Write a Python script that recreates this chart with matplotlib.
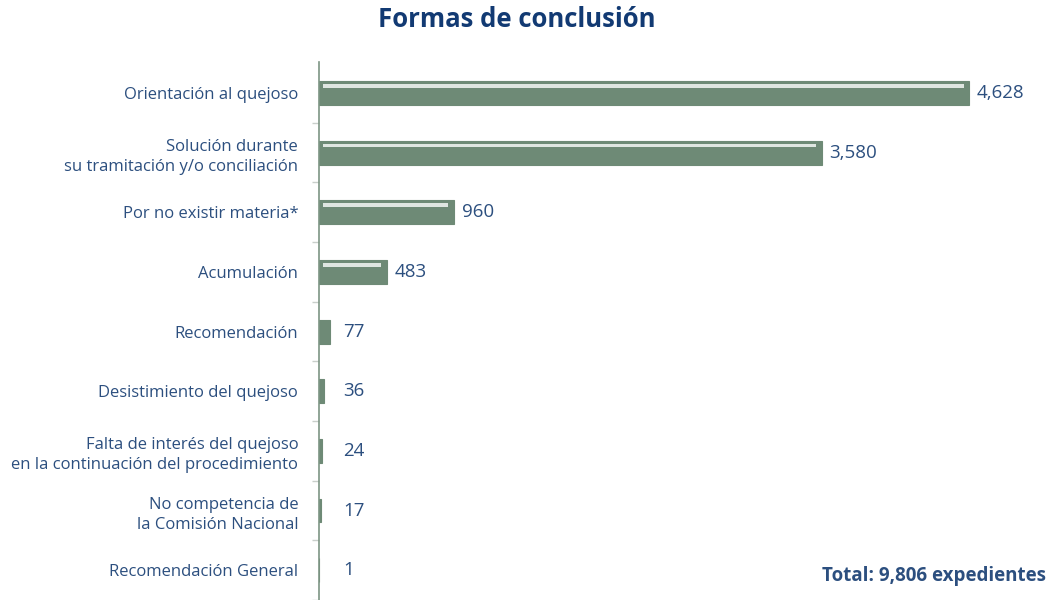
import matplotlib.pyplot as plt
import numpy as np

plt.rcParams['font.family'] = ['Open Sans', 'DejaVu Sans']

categorias = ['Orientación al quejoso',
              'Solución durante\nsu tramitación y/o conciliación',
              'Por no existir materia*',
              'Acumulación',
              'Recomendación',
              'Desistimiento del quejoso',
              'Falta de interés del quejoso\nen la continuación del procedimiento',
              'No competencia de\nla Comisión Nacional',
              'Recomendación General']
valores = [4628, 3580, 960, 483, 77, 36, 24, 17, 1]
total = 9806

bar_color = '#6e8a76'
text_color = '#2c4f7f'
title_color = '#123a73'

fig = plt.figure(figsize=(10.57, 6), dpi=100)
ax = fig.add_axes([319 / 1057, 0.0, 721 / 1057, 1 - 62 / 600])

y = np.arange(len(categorias))
ax.barh(y, valores, height=0.4, color=bar_color, edgecolor=bar_color, linewidth=0.8)

# light stripe along the top of each bar
for yi, v in zip(y, valores):
    if v > 200:
        ax.barh(yi - 0.12, v - 70, left=30, height=0.06, color='#dfe6e1', linewidth=0)

xmax = 5132
ax.set_xlim(0, xmax)
ax.set_ylim(len(categorias) - 0.5, -0.52)

ax.set_yticks(y)
ax.set_yticklabels(categorias, fontsize=12, color=text_color, linespacing=1.38)
ax.tick_params(axis='y', which='major', length=0, pad=15)
ax.set_yticks(np.arange(len(categorias)) + 0.5, minor=True)
ax.tick_params(axis='y', which='minor', length=5, color='#c9cfcb', width=1)
ax.set_xticks([])

for s in ['top', 'right', 'bottom']:
    ax.spines[s].set_visible(False)
ax.spines['left'].set_color('#7d9584')
ax.spines['left'].set_linewidth(1.2)

for yi, v in zip(y, valores):
    xpos = max(v + 55, 170)
    ax.text(xpos, yi, f'{v:,}', va='center', ha='left', fontsize=13.5, color=text_color)

fig.text(0.489, 0.968, 'Formas de conclusión', ha='center', va='center',
         fontsize=18.5, fontweight='bold', color=title_color)
fig.text(0.99, 0.04, f'Total: {total:,} expedientes', ha='right', va='center',
         fontsize=13.5, fontweight='bold', color=text_color)

fig.savefig('out.png', dpi=100)
